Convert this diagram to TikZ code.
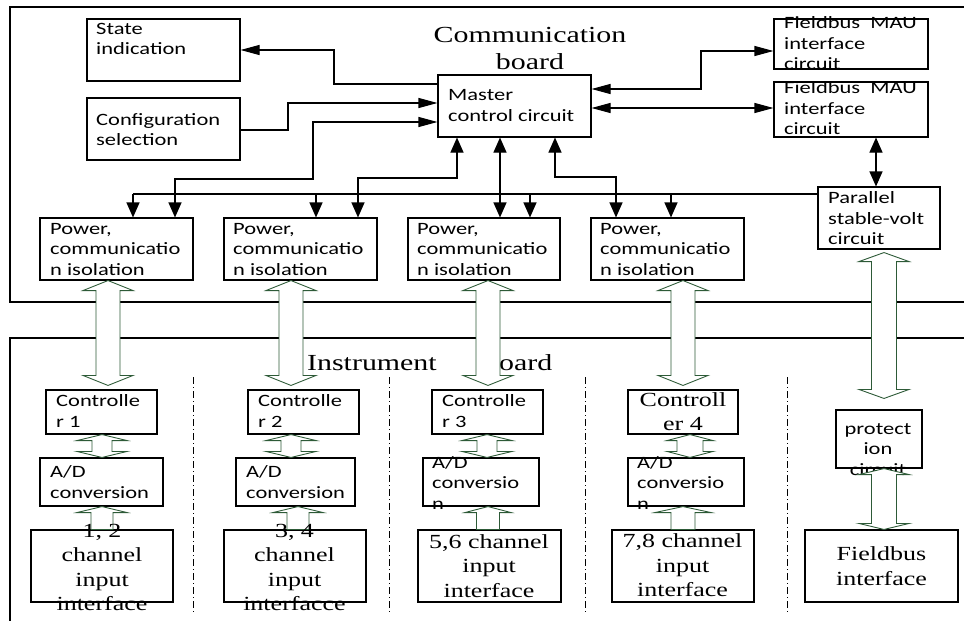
\documentclass[tikz,border=0pt]{standalone}
\usepackage{fontspec}
\newfontfamily\sansf[FakeStretch=1.3]{Carlito}
\newfontfamily\serf[FakeStretch=1.3]{Liberation Serif}
\usetikzlibrary{arrows.meta,calc}
\definecolor{hgreen}{RGB}{45,90,55}
\tikzset{
  hTip/.tip={Triangle[length=19pt,width=10pt]},
  vTip/.tip={Triangle[length=15pt,width=13pt]},
  sbox/.style={draw, line width=1.1pt, inner sep=0pt},
  stext/.style={font=\sansf\fontsize{17.3}{20.5}\selectfont, align=left, inner sep=0pt, anchor=west},
  rtext/.style={font=\serf\fontsize{20}{24.5}\selectfont, align=center, inner sep=0pt},
  conn/.style={line width=1.1pt},
  hollow/.style={draw=hgreen, fill=white, line width=0.9pt, line join=miter},
  dashdot/.style={line width=0.9pt, dash pattern=on 7pt off 3pt on 1pt off 3pt},
  board/.style={line width=1.2pt},
}
\newcommand\boxat[5]{\node[sbox, minimum width={(#4)-(#2)}, minimum height={(#5)-(#3)}] (#1) at ({((#2)+(#4))/2},{((#3)+(#5))/2}) {};}
% #1 top apex, #2 bottom apex, #3 head length, #4 half shaft, #5 half head
\newcommand\hollowtwo[5]{\filldraw[hollow] let \p1=(#1), \p2=(#2) in
  (\p1) -- (\x1+#5pt,\y1-#3pt) -- (\x1+#4pt,\y1-#3pt) -- (\x1+#4pt,\y2+#3pt) -- (\x1+#5pt,\y2+#3pt) -- (\x1,\y2)
  -- (\x1-#5pt,\y2+#3pt) -- (\x1-#4pt,\y2+#3pt) -- (\x1-#4pt,\y1-#3pt) -- (\x1-#5pt,\y1-#3pt) -- cycle;}
\newcommand\hollowone[5]{\filldraw[hollow] let \p1=(#1), \p2=(#2) in
  (\p1) -- (\x1+#5pt,\y1-#3pt) -- (\x1+#4pt,\y1-#3pt) -- (\x1+#4pt,\y2) -- (\x1-#4pt,\y2)
  -- (\x1-#4pt,\y1-#3pt) -- (\x1-#5pt,\y1-#3pt) -- cycle;}
\begin{document}
\begin{tikzpicture}[x=1pt,y=-1pt]
\useasboundingbox (0,0) rectangle (964,621);
% boards
\draw[board] (964,7) -- (10,7) -- (10,302) -- (964,302);
\draw[board] (964,338) -- (10,338) -- (10,621);
\node[font=\serf\fontsize{23}{27}\selectfont, align=center, inner sep=0pt] (ctitle) at (530,48) {Communication\\board};
\node[font=\serf\fontsize{23}{27}\selectfont, inner sep=0pt, anchor=west] (ititle) at (307,362.5) {Instrument\hspace{40pt} board};
% boxes
\boxat{st}{87}{19}{240}{81}
\boxat{cfg}{87}{98}{240}{160}
\boxat{mc}{438}{75}{591}{137}
\boxat{fba}{774}{19}{928}{69}
\boxat{fbb}{774}{82}{928}{137}
\boxat{par}{818}{187}{940}{249}
\boxat{pa}{40}{218}{193}{280}
\boxat{pb}{224}{218}{377}{280}
\boxat{pc}{408}{218}{560}{280}
\boxat{pd}{591}{218}{744}{280}
\boxat{ca}{46}{390}{157}{434}
\boxat{cb}{248}{390}{359}{434}
\boxat{cc}{432}{390}{543}{434}
\boxat{cd}{628}{390}{738}{434}
\boxat{ada}{40}{458}{163}{506}
\boxat{adb}{236}{458}{355}{506}
\boxat{adc}{423}{458}{539}{506}
\boxat{add}{628}{458}{744}{506}
\boxat{ina}{31}{530}{173}{602}
\boxat{inb}{224}{530}{366}{602}
\boxat{inc}{418}{530}{561}{602}
\boxat{ind}{612}{530}{754}{602}
\boxat{fbi}{805}{530}{958}{602}
\boxat{prot}{836}{410}{922}{468}
% texts (sans)
\node[stext] at (96,39) {State\\indication};
\node[stext] at (96,129.5) {Configuration\\selection};
\node[stext] at (448,105.5) {Master\\control circuit};
\node[stext] at (784,43.5) {Fieldbus\ \ MAU\\interface\\circuit};
\node[stext] at (784,108.5) {Fieldbus\ \ MAU\\interface\\circuit};
\node[stext] at (828,218.5) {Parallel\\stable-volt\\circuit};
\node[stext] at (50,249.5) {Power,\\communicatio\\n isolation};
\node[stext] at (233,249.5) {Power,\\communicatio\\n isolation};
\node[stext] at (417,249.5) {Power,\\communicatio\\n isolation};
\node[stext] at (600,249.5) {Power,\\communicatio\\n isolation};
\node[stext] at (56,411) {Controlle\\r 1};
\node[stext] at (258,411) {Controlle\\r 2};
\node[stext] at (442,411) {Controlle\\r 3};
\node[rtext] at (683,411.5) {Controll\\er 4};
\node[stext] at (50,482) {A/D\\conversion};
\node[stext] at (246,482) {A/D\\conversion};
\node[stext] at (432,482.5) {A/D\\conversio\\n};
\node[stext] at (637,482.5) {A/D\\conversio\\n};
\node[stext, align=center, anchor=center] at (878,449.5) {protect\\ion\\circuit};
% black connectors
\draw[conn,-hTip] (mc.west |- 0,84) -- (334,84) -- (334,50) -- (st.east |- 0,50);
\draw[conn,-hTip] (cfg.east |- 0,130) -- (288,130) -- (288,103) -- (mc.west |- 0,103);
\draw[conn,vTip-hTip] (175,0 |- pa.north) -- (175,179) -- (313,179) -- (313,122) -- (mc.west |- 0,122);
\draw[conn,vTip-vTip] (358,0 |- pb.north) -- (358,178) -- (457,178) -- (457,0 |- mc.south);
\draw[conn,vTip-vTip] (500,0 |- mc.south) -- (500,0 |- pc.north);
\draw[conn,vTip-vTip] (555,0 |- mc.south) -- (555,177) -- (616,177) -- (616,0 |- pd.north);
\draw[conn] (par.west |- 0,194) -- (133,194);
\draw[conn,-vTip] (133,194) -- (133,0 |- pa.north);
\draw[conn,-vTip] (316,194) -- (316,0 |- pb.north);
\draw[conn,-vTip] (530,194) -- (530,0 |- pc.north);
\draw[conn,-vTip] (671,194) -- (671,0 |- pd.north);
\draw[conn,hTip-hTip] (mc.east |- 0,89) -- (701,89) -- (701,51) -- (fba.west |- 0,51);
\draw[conn,hTip-hTip] (mc.east |- 0,108) -- (fbb.west |- 0,108);
\draw[conn,vTip-vTip] (876,0 |- fbb.south) -- (876,0 |- par.north);
% dash-dot separators
\draw[dashdot] (193,377) -- (193,615);
\draw[dashdot] (389,377) -- (389,615);
\draw[dashdot] (585,377) -- (585,615);
\draw[dashdot] (787,377) -- (787,615);
% hollow arrows
\hollowtwo{108,0 |- pa.south}{$(108,0 |- ca.north)+(0,-4)$}{10}{12}{25}
\hollowtwo{291,0 |- pb.south}{$(291,0 |- cb.north)+(0,-4)$}{10}{12}{25}
\hollowtwo{488,0 |- pc.south}{$(488,0 |- cc.north)+(0,-4)$}{10}{12}{25}
\hollowtwo{683,0 |- pd.south}{$(683,0 |- cd.north)+(0,-4)$}{10}{12}{25}
\hollowtwo{$(884,0 |- par.south)+(0,3)$}{$(884,0 |- prot.north)+(0,-11)$}{9}{12.5}{25}
\hollowtwo{102,0 |- ca.south}{102,0 |- ada.north}{6}{10}{25}
\hollowtwo{291,0 |- cb.south}{291,0 |- adb.north}{6}{10}{25}
\hollowtwo{487,0 |- cc.south}{487,0 |- adc.north}{6}{10}{25}
\hollowtwo{690,0 |- cd.south}{690,0 |- add.north}{6}{13}{23}
\hollowone{102,0 |- ada.south}{102,0 |- ina.north}{6}{11}{25}
\hollowone{298,0 |- adb.south}{298,0 |- inb.north}{6}{11}{25}
\hollowone{488,0 |- adc.south}{488,0 |- inc.north}{6}{11.5}{23}
\hollowone{683,0 |- add.south}{683,0 |- ind.north}{6}{12}{28}
\hollowtwo{884,0 |- prot.south}{884,0 |- fbi.north}{6}{12.5}{25}
% serif texts of the input boxes
\node[rtext] at (102,567.5) {1, 2\\channel\\input\\interface};
\node[rtext] at (294.5,567.5) {3, 4\\channel\\input\\interfacce};
\node[rtext] at (489,566) {5,6 channel\\input\\interface};
\node[rtext] at (682.5,565.5) {7,8 channel\\input\\interface};
\node[rtext] at (881.5,566) {Fieldbus\\interface};
\end{tikzpicture}
\end{document}
